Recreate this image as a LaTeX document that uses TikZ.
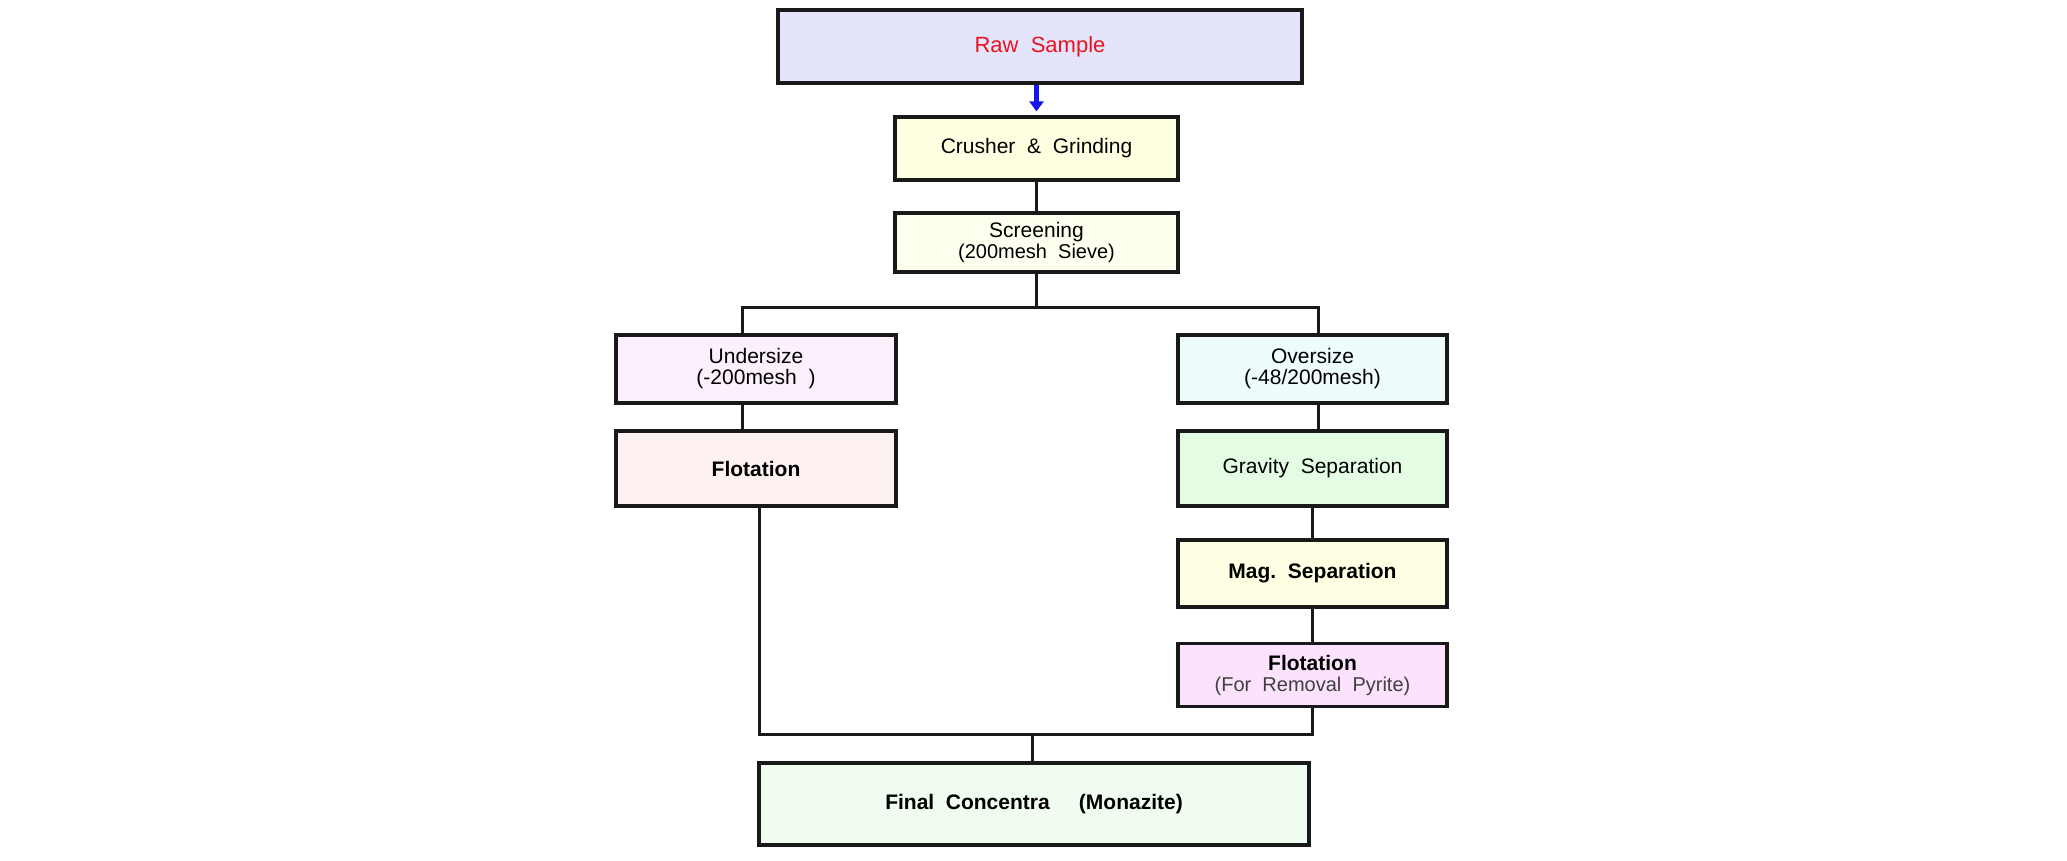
\documentclass[tikz,border=0pt]{standalone}
\usepackage{fontspec}
\setmainfont{Liberation Sans}
\usetikzlibrary{arrows.meta}
\definecolor{cRaw}{RGB}{228,228,252}
\definecolor{cCrush}{RGB}{255,255,226}
\definecolor{cScreen}{RGB}{255,255,240}
\definecolor{cUnder}{RGB}{252,240,252}
\definecolor{cFlotL}{RGB}{253,241,241}
\definecolor{cOver}{RGB}{238,252,252}
\definecolor{cGrav}{RGB}{228,252,228}
\definecolor{cMag}{RGB}{255,255,228}
\definecolor{cFlotR}{RGB}{252,226,252}
\definecolor{cFinal}{RGB}{240,252,240}
\definecolor{cRed}{RGB}{235,20,30}
\definecolor{cBlue}{RGB}{20,20,240}
\tikzset{
  box/.style={draw=black!90, line width=3.2pt, rectangle, inner sep=0pt, align=center,
              font=\fontsize{21}{22}\selectfont},
  conn/.style={draw=black!90, line width=3pt},
  bluearr/.style={draw=cBlue, line width=5pt, -{Triangle[width=14pt,length=10pt]}},
}
\begin{document}
\begin{tikzpicture}[x=1pt,y=-1pt]
\useasboundingbox[fill=white] (0,0) rectangle (2067,861);
\node[box, fill=cRaw, minimum width=524, minimum height=73, text=cRed,
      font=\fontsize{22}{24}\selectfont] (raw) at (1040,46.5) {Raw\ \ Sample};
\node[box, fill=cCrush, minimum width=283, minimum height=63] (crush) at (1036.5,148.5) {Crusher\ \ \&\ \ Grinding};
\node[box, fill=cScreen, minimum width=283, minimum height=59] (screen) at (1036.5,242.5)
  {Screening\\[-1pt]{\fontsize{20}{21}\selectfont(200mesh\ \ Sieve)}};
\node[box, fill=cUnder, minimum width=280, minimum height=68] (under) at (756,369) {Undersize\\[-1pt](-200mesh\ \ )};
\node[box, fill=cOver, minimum width=269, minimum height=68] (over) at (1312.5,369) {Oversize\\[-1pt](-48/200mesh)};
\node[box, fill=cFlotL, minimum width=280, minimum height=75, font=\fontsize{21}{22}\selectfont\bfseries] (flotL) at (756,468.5) {Flotation};
\node[box, fill=cGrav, minimum width=269, minimum height=75] (grav) at (1312.5,468.5) {Gravity\ \ Separation};
\node[box, fill=cMag, minimum width=269, minimum height=67, font=\fontsize{21}{22}\selectfont\bfseries] (mag) at (1312.5,573.5) {Mag.\ \ Separation};
\node[box, fill=cFlotR, minimum width=269, minimum height=63] (flotR) at (1312.5,675)
  {{\bfseries Flotation}\\[-1pt]{\fontsize{20}{21}\selectfont\color{black!75}(For\ \ Removal\ \ Pyrite)}};
\node[box, fill=cFinal, minimum width=550, minimum height=82, font=\fontsize{21}{22}\selectfont\bfseries] (final) at (1034,804) {Final\ \ Concentra\ \ \ \ \ (Monazite)};

\coordinate (bus1) at (1036.5,307);
\coordinate (bus2) at (1032,734);

\draw[bluearr] ([yshift=30pt]crush.north) -- ([yshift=4pt]crush.north);
\draw[conn] (crush.south) -- (screen.north);
\draw[conn] (screen.south) -- (bus1);
\draw[conn] ([xshift=-14pt]under.north) |- (bus1) -| ([xshift=5.5pt]over.north);
\draw[conn] ([xshift=-14pt]under.south) -- ([xshift=-14pt]flotL.north);
\draw[conn] ([xshift=5.5pt]over.south) -- ([xshift=5.5pt]grav.north);
\draw[conn] (grav.south) -- (mag.north);
\draw[conn] (mag.south) -- (flotR.north);
\draw[conn] ([xshift=3pt]flotL.south) |- (bus2) -| (flotR.south);
\draw[conn] (bus2) -- ([xshift=-2pt]final.north);
\end{tikzpicture}
\end{document}
